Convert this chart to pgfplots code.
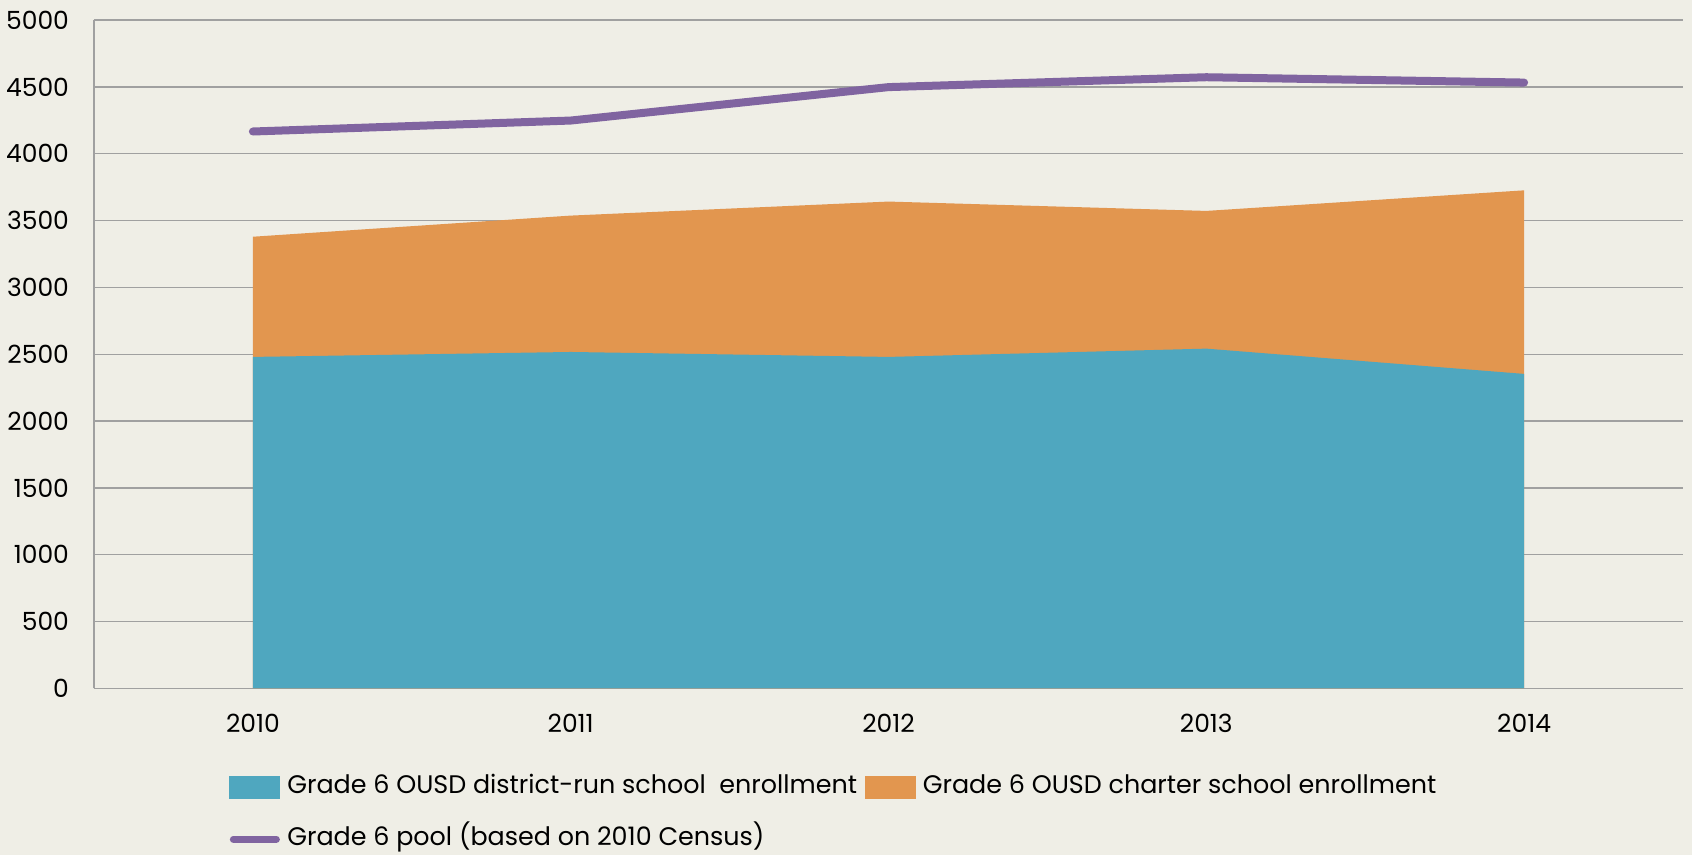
\documentclass[border=0pt]{standalone}
\usepackage{fontspec}
\setmainfont{Poppins}
\usepackage{pgfplots}
\pgfplotsset{compat=1.18}
\definecolor{bgc}{HTML}{EFEEE6}
\definecolor{cteal}{HTML}{4FA7BF}
\definecolor{corange}{HTML}{E2964F}
\definecolor{cpurple}{HTML}{8064A0}
\definecolor{gridc}{HTML}{A0A0A0}
\begin{document}
\begin{tikzpicture}[x=1pt,y=1pt]
\fill[bgc] (-47,-83.25) rectangle (799,344.25);
\useasboundingbox (-47,-83.25) rectangle (799,344.25);
\begin{axis}[
  at={(0,0)}, anchor=south west,
  scale only axis, width=794.5pt, height=334.25pt,
  xmin=-0.5, xmax=4.5, ymin=0, ymax=5000,
  xtick={0,1,2,3,4}, xticklabels={2010,2011,2012,2013,2014},
  ytick={0,500,...,5000},
  ymajorgrids, grid style={color=gridc, line width=0.7pt},
  axis x line*=bottom, axis y line*=left,
  axis line style={gridc, line width=0.8pt},
  major tick length=0pt,
  tick label style={font=\fontsize{12.5}{15}\selectfont, text=black},
  /pgf/number format/assume math mode=true,
  /pgf/number format/1000 sep={},
  yticklabel style={xshift=-9pt},
  xticklabel style={yshift=-9.5pt},
  legend columns=2,
  legend style={at={(0.085,-0.1284)}, anchor=north west, draw=none, fill=none,
    inner sep=0pt, font=\fontsize{12.7}{15}\selectfont,
    nodes={inner sep=0pt, text height=9.5pt, text depth=3pt},
    row sep=13.5pt,
    /tikz/every odd column/.append style={column sep=3.5pt},
    /tikz/every even column/.append style={column sep=4pt}},
  legend cell align=left,
]
\addplot[fill=corange, draw=none, forget plot] coordinates {(0,3379) (1,3537) (2,3642) (3,3572) (4,3726)} \closedcycle;
\addplot[fill=cteal, draw=none, forget plot] coordinates {(0,2480) (1,2517) (2,2480) (3,2542) (4,2353)} \closedcycle;
\addplot[cpurple, line width=4pt, line cap=round, line join=round, forget plot] coordinates {(0,4166) (1,4248) (2,4498) (3,4572) (4,4532)};
\addlegendimage{legend image code/.code={\fill[cteal] (0pt,-5.5pt) rectangle (25pt,5.5pt);}}
\addlegendentry{Grade 6 OUSD district-run school \ enrollment}
\addlegendimage{legend image code/.code={\fill[corange] (0pt,-5.5pt) rectangle (25pt,5.5pt);}}
\addlegendentry{Grade 6 OUSD charter school enrollment}
\addlegendimage{legend image code/.code={\draw[cpurple, line width=3.5pt, line cap=round] (1.75pt,0pt) -- (23.25pt,0pt);}}
\addlegendentry{Grade 6 pool (based on 2010 Census)}
\end{axis}
\end{tikzpicture}
\end{document}
